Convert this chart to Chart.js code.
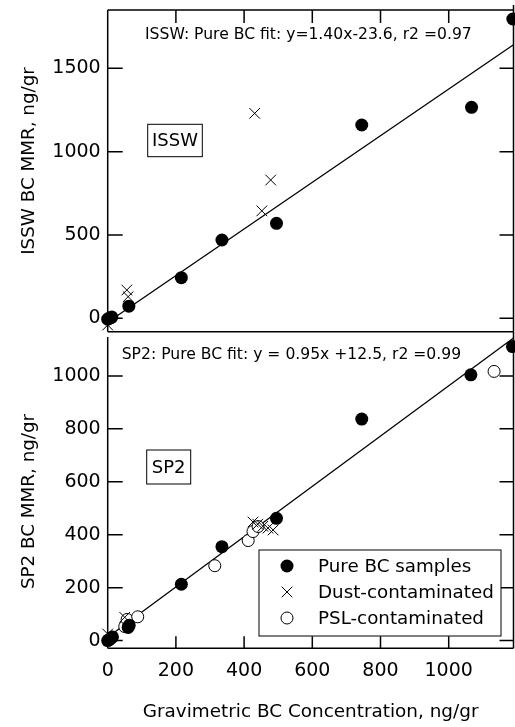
<!DOCTYPE html>
<html>
<head>
<meta charset="utf-8">
<script src="https://cdn.jsdelivr.net/npm/chart.js@4.4.0/dist/chart.umd.min.js"></script>
<style>
    html, body { margin: 0; background: #fff; overflow: hidden; }
    canvas { position: absolute; left: 0; }
    #isswChart { top: 0; }
    #sp2Chart { top: 330px; }
</style>
</head>
<body>
<canvas id="isswChart" width="515" height="340"></canvas>
<canvas id="sp2Chart" width="515" height="397"></canvas>
<script>
//Data

var xTicks = [0, 200, 400, 600, 800, 1000];
var isswTicks = [0, 500, 1000, 1500];
var sp2Ticks = [0, 200, 400, 600, 800, 1000];

// ISSW panel
var isswPureX = [0, 4, 9, 12, 62, 216, 335, 495, 745, 1067, 1188];
var isswPureY = [-5, 0, 5, 8, 73, 244, 470, 570, 1160, 1266, 1796];
var isswDustX = [0, 56, 60, 431, 452, 478];
var isswDustY = [-40, 170, 130, 1230, 645, 830];
var isswFitX = [0, 1190];
var isswFitY = [-23.6, 1642];

// SP2 panel
var sp2PureX = [0, 4, 9, 14, 60, 63, 216, 335, 495, 745, 1065, 1187];
var sp2PureY = [0, 3, 8, 14, 50, 58, 213, 355, 462, 837, 1004, 1111];
var sp2DustX = [0, 50, 426, 440, 455, 470, 485];
var sp2DustY = [25, 88, 448, 440, 432, 425, 418];
var sp2PslX = [50, 57, 88, 314, 412, 426, 441, 1133];
var sp2PslY = [53, 80, 90, 283, 378, 412, 431, 1017];
var sp2FitX = [0, 1190];
var sp2FitY = [12.5, 1143];

var font = "'DejaVu Sans', sans-serif";
Chart.defaults.font.family = font;
Chart.defaults.color = "#000";
Chart.defaults.animation = false;

function toPoints(xs, ys) {
    return xs.map(function(x, i) { return { x: x, y: ys[i] }; });
}

function pureSet(xs, ys) {
    return {
        label: "Pure BC samples",
        data: toPoints(xs, ys),
        pointStyle: "circle",
        pointRadius: 6.5,
        pointBackgroundColor: "#000",
        pointBorderWidth: 0,
        showLine: false,
        clip: false
    };
}

function dustSet(xs, ys) {
    return {
        label: "Dust-contaminated",
        data: toPoints(xs, ys),
        pointStyle: "crossRot",
        pointRadius: 7.5,
        pointBorderColor: "#000",
        pointBorderWidth: 1,
        showLine: false,
        clip: false
    };
}

function pslSet(xs, ys) {
    return {
        label: "PSL-contaminated",
        data: toPoints(xs, ys),
        pointStyle: "circle",
        pointRadius: 6,
        pointBackgroundColor: "#fff",
        pointBorderColor: "#000",
        pointBorderWidth: 1,
        showLine: false,
        clip: false
    };
}

function fitSet(xs, ys) {
    return {
        label: "fit",
        data: toPoints(xs, ys),
        showLine: true,
        borderColor: "#000",
        borderWidth: 1.3,
        pointRadius: 0,
        clip: false
    };
}

//Frame, inward ticks and in-plot text

var panelPlugin = {
    id: "panel",
    afterDatasetsDraw: function(chart, args, opts) {
        var ctx = chart.ctx;
        var a = chart.chartArea;
        var xs = chart.scales.x;
        var ys = chart.scales.y;

        ctx.save();
        ctx.strokeStyle = "#000";
        ctx.lineWidth = 1.5;
        ctx.beginPath();
        opts.sides.forEach(function(s) {
            if (s === "left") { ctx.moveTo(a.left, a.top); ctx.lineTo(a.left, a.bottom); }
            if (s === "right") { ctx.moveTo(a.right, a.top - 5); ctx.lineTo(a.right, a.bottom); }
            if (s === "top") { ctx.moveTo(a.left, a.top); ctx.lineTo(a.right, a.top); }
            if (s === "bottom") { ctx.moveTo(a.left, a.bottom); ctx.lineTo(a.right, a.bottom); }
        });
        opts.yTicks.forEach(function(v) {
            var py = ys.getPixelForValue(v);
            ctx.moveTo(a.left, py); ctx.lineTo(a.left + 15, py);
            ctx.moveTo(a.right, py); ctx.lineTo(a.right - 14, py);
        });
        xTicks.forEach(function(v) {
            if (v === 0) return;
            var px = xs.getPixelForValue(v);
            if (opts.xTickSide === "top") { ctx.moveTo(px, a.top); ctx.lineTo(px, a.top + 13); }
            else { ctx.moveTo(px, a.bottom); ctx.lineTo(px, a.bottom - 12); }
        });
        ctx.stroke();

        // y axis title
        ctx.fillStyle = "#000";
        ctx.save();
        ctx.translate(opts.yTitle.x, opts.yTitle.y);
        ctx.rotate(-Math.PI / 2);
        ctx.textAlign = "center";
        ctx.textBaseline = "middle";
        ctx.font = "18.3px " + font;
        ctx.fillText(opts.yTitle.text, 0, 0);
        ctx.restore();

        // fit equation
        ctx.textAlign = "left";
        ctx.textBaseline = "middle";
        ctx.font = "15.6px " + font;
        ctx.fillText(opts.fitText.text, opts.fitText.x, opts.fitText.y);

        // boxed panel name
        var b = opts.nameBox;
        ctx.lineWidth = 1;
        ctx.strokeRect(b.x, b.y, b.w, b.h);
        ctx.textAlign = "center";
        ctx.font = "18px " + font;
        ctx.fillText(b.text, b.x + b.w / 2, b.y + b.h / 2 + 1);

        // legend box
        if (opts.legend) {
            var L = opts.legend;
            ctx.fillStyle = "#fff";
            ctx.fillRect(L.x, L.y, L.w, L.h);
            ctx.strokeRect(L.x, L.y, L.w, L.h);
            ctx.font = "18.3px " + font;
            ctx.textAlign = "left";
            for (var i = 0; i < 3; i++) {
                var ds = chart.data.datasets[i];
                var rowY = L.y + 16 + i * 26;
                ctx.fillStyle = ds.pointBackgroundColor || "#000";
                ctx.strokeStyle = "#000";
                ctx.lineWidth = ds.pointBorderWidth || 1;
                Chart.helpers.drawPoint(ctx, {
                    pointStyle: ds.pointStyle,
                    radius: ds.pointRadius,
                    rotation: 0,
                    borderWidth: ds.pointBorderWidth
                }, L.x + 28, rowY);
                ctx.fillStyle = "#000";
                ctx.fillText(ds.label, L.x + 59, rowY + 1);
            }
        }
        ctx.restore();
    }
};

function plainTick(v) {
    return String(v);
}

function noPadding(scale) {
    scale.paddingTop = 0;
    scale.paddingBottom = 0;
    scale.paddingLeft = 0;
    scale.paddingRight = 0;
}

function yScale(min, max, ticks) {
    return {
        type: "linear",
        min: min,
        max: max,
        grid: { display: false, drawTicks: false },
        border: { display: false },
        ticks: { font: { size: 19 }, padding: 7, autoSkip: false, callback: plainTick },
        afterBuildTicks: function(scale) {
            scale.ticks = ticks.map(function(v) { return { value: v }; });
        },
        afterFit: function(scale) {
            scale.width = 107.7;
            noPadding(scale);
        }
    };
}

//ISSW chart

var isswChart = new Chart(document.getElementById("isswChart"), {
    type: "scatter",
    data: {
        datasets: [
            pureSet(isswPureX, isswPureY),
            dustSet(isswDustX, isswDustY),
            fitSet(isswFitX, isswFitY)
        ]
    },
    options: {
        responsive: false,
        devicePixelRatio: 1,
        layout: { autoPadding: false, padding: { top: 10, right: 1.5, bottom: 8.3, left: 0 } },
        scales: {
            x: {
                type: "linear", min: 0, max: 1190, display: false,
                afterFit: noPadding
            },
            y: yScale(-80, 1850, isswTicks)
        },
        plugins: {
            legend: { display: false },
            tooltip: { enabled: false },
            panel: {
                sides: ["left", "top", "right", "bottom"],
                yTicks: isswTicks,
                xTickSide: "top",
                yTitle: { text: "ISSW BC MMR, ng/gr", x: 29, y: 161 },
                fitText: { text: "ISSW: Pure BC fit: y=1.40x-23.6, r2 =0.97", x: 145, y: 35 },
                nameBox: { text: "ISSW", x: 147.7, y: 124.3, w: 54.6, h: 32.4 }
            }
        }
    },
    plugins: [panelPlugin]
});

//SP2 chart

var sp2Chart = new Chart(document.getElementById("sp2Chart"), {
    type: "scatter",
    data: {
        datasets: [
            pureSet(sp2PureX, sp2PureY),
            dustSet(sp2DustX, sp2DustY),
            pslSet(sp2PslX, sp2PslY),
            fitSet(sp2FitX, sp2FitY)
        ]
    },
    options: {
        responsive: false,
        devicePixelRatio: 1,
        layout: { autoPadding: false, padding: { top: 7, right: 1.5, bottom: 0, left: 0 } },
        scales: {
            x: {
                type: "linear",
                min: 0,
                max: 1190,
                grid: { display: false, drawTicks: false },
                border: { display: false },
                ticks: { font: { size: 19 }, padding: 11, maxRotation: 0, autoSkip: false, callback: plainTick },
                afterBuildTicks: function(scale) {
                    scale.ticks = xTicks.map(function(v) { return { value: v }; });
                },
                afterFit: function(scale) {
                    scale.height = 78.7;
                    noPadding(scale);
                },
                title: {
                    display: true,
                    text: "Gravimetric BC Concentration, ng/gr",
                    font: { size: 18.4 },
                    padding: { top: 0, bottom: 4 }
                }
            },
            y: yScale(-29, 1147, sp2Ticks)
        },
        plugins: {
            legend: { display: false },
            tooltip: { enabled: false },
            panel: {
                sides: ["left", "right", "bottom"],
                yTicks: sp2Ticks,
                xTickSide: "bottom",
                yTitle: { text: "SP2 BC MMR, ng/gr", x: 29, y: 171.5 },
                fitText: { text: "SP2: Pure BC fit: y = 0.95x +12.5, r2 =0.99", x: 121.7, y: 25 },
                nameBox: { text: "SP2", x: 146.7, y: 120, w: 44, h: 34 },
                legend: { x: 259, y: 220, w: 242, h: 86 }
            }
        }
    },
    plugins: [panelPlugin]
});
</script>
</body>
</html>
